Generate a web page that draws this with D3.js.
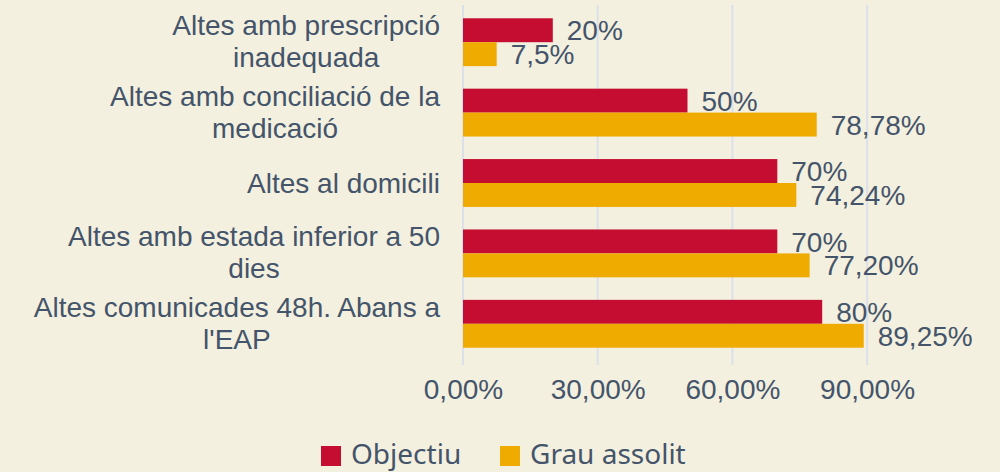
<!DOCTYPE html>
<html>
<head>
<meta charset="utf-8">
<script src="https://cdn.jsdelivr.net/npm/d3@7"></script>
<style>
  body { margin: 0; background: #f3f0df; }
  svg { display: block; }
  .cat, .val { fill: #44546a; font-family: "Liberation Sans", Arial, sans-serif; }
  .legend text { fill: #44546a; font-family: "Noto Sans", "Open Sans", sans-serif; }
</style>
</head>
<body>
<div class="bar_wrapper"></div>
<script>
// categories (line breaks as in the original)
const categories = [
  "Altes amb prescripció\ninadequada",
  "Altes amb conciliació de la\nmedicació",
  "Altes al domicili",
  "Altes amb estada inferior a 50\ndies",
  "Altes comunicades 48h. Abans a\nl'EAP"
]
const objectiu = [20, 50, 70, 70, 80]
const grauAssolit = [7.5, 78.78, 74.24, 77.20, 89.25]
const objectiuLabels = ["20%", "50%", "70%", "70%", "80%"]
const grauLabels = ["7,5%", "78,78%", "74,24%", "77,20%", "89,25%"]
const tickValues = [0, 30, 60, 90]
const tickLabels = ["0,00%", "30,00%", "60,00%", "90,00%"]
const seriesNames = ["Objectiu", "Grau assolit"]

function drawBars () {

  let dimensions = {
    width: 1000,
    height: 472,
    margin: { top: 7, right: 88, bottom: 113, left: 463 },
  }
  dimensions.boundedWidth = dimensions.width - dimensions.margin.left - dimensions.margin.right
  dimensions.boundedHeight = dimensions.height - dimensions.margin.top - dimensions.margin.bottom

  const colors = ["#c50d32", "#f0ab00"]

  const wrapper = d3.select(".bar_wrapper")
    .append("svg")
      .attr("width", dimensions.width)
      .attr("height", dimensions.height)

  wrapper.append("rect")
    .attr("width", dimensions.width)
    .attr("height", dimensions.height)
    .attr("fill", "#f3f0df")

  const bounds = wrapper.append("g")
    .attr("transform", `translate(${dimensions.margin.left},${dimensions.margin.top})`)

  const dataset = categories.map((c, i) => ({
    cat: c,
    values: [
      { key: 0, v: objectiu[i], label: objectiuLabels[i] },
      { key: 1, v: grauAssolit[i], label: grauLabels[i] },
    ]
  }))

  const xScale = d3.scaleLinear()
    .domain([0, 100])
    .range([0, dimensions.boundedWidth])

  const yScale = d3.scaleBand()
    .domain(categories)
    .range([0, dimensions.boundedHeight])
    .paddingInner(0.32)
    .paddingOuter(0.16)

  const subScale = d3.scaleBand()
    .domain([0, 1])
    .range([0, yScale.bandwidth()])

  // gridlines
  bounds.append("g")
    .selectAll("line")
    .data(tickValues)
    .join("line")
      .attr("x1", d => xScale(d))
      .attr("x2", d => xScale(d))
      .attr("y1", -2)
      .attr("y2", dimensions.boundedHeight + 6)
      .attr("stroke", "#dce0ea")
      .attr("stroke-width", 2)

  // x axis
  const xAxis = d3.axisBottom(xScale)
    .tickValues(tickValues)
    .tickFormat((d, i) => tickLabels[i])
    .tickSize(0)
    .tickPadding(20)

  bounds.append("g")
    .attr("transform", `translate(0,${dimensions.boundedHeight})`)
    .call(xAxis)
    .call(g => g.select(".domain").remove())
    .selectAll("text")
      .attr("font-size", 28)
      .attr("fill", "#44546a")
      .attr("font-family", "Liberation Sans, Arial, sans-serif")

  // bars
  const groups = bounds.selectAll(".group")
    .data(dataset)
    .join("g")
      .attr("class", "group")
      .attr("transform", d => `translate(0,${yScale(d.cat)})`)

  groups.selectAll("rect")
    .data(d => d.values)
    .join("rect")
      .attr("x", 0)
      .attr("y", d => subScale(d.key))
      .attr("width", d => xScale(d.v))
      .attr("height", subScale.bandwidth())
      .attr("fill", d => colors[d.key])

  groups.selectAll(".val")
    .data(d => d.values)
    .join("text")
      .attr("class", "val")
      .attr("x", d => xScale(d.v) + 14)
      .attr("y", d => subScale(d.key) + subScale.bandwidth() / 2)
      .attr("dy", "0.36em")
      .attr("font-size", 28)
      .text(d => d.label)

  // category labels, centred lines right-aligned as a block
  const catGroups = bounds.selectAll(".catg")
    .data(dataset)
    .join("g")
      .attr("class", "catg")
      .attr("transform", d => `translate(0,${yScale(d.cat) + yScale.bandwidth() / 2})`)

  catGroups.each(function (d) {
    const g = d3.select(this)
    const lines = d.cat.split("\n")
    const lineH = 32
    const texts = g.selectAll("text")
      .data(lines)
      .join("text")
        .attr("class", "cat")
        .attr("font-size", 28)
        .attr("text-anchor", "middle")
        .attr("y", (l, i) => (i - (lines.length - 1) / 2) * lineH - (lines.length > 1 ? 1 : 0))
        .attr("dy", "0.36em")
        .text(l => l)
    const widest = d3.max(texts.nodes(), n => n.getComputedTextLength())
    texts.attr("x", -23 - widest / 2)
  })

  // legend
  const legend = wrapper.append("g")
    .attr("class", "legend")
    .attr("transform", "translate(321,446)")

  const legendX = [0, 179]
  const items = legend.selectAll("g")
    .data(seriesNames)
    .join("g")
      .attr("transform", (d, i) => `translate(${legendX[i]},0)`)

  items.append("rect")
    .attr("width", 20)
    .attr("height", 20)
    .attr("fill", (d, i) => colors[i])

  items.append("text")
    .attr("x", 30)
    .attr("y", 8)
    .attr("dy", "0.36em")
    .attr("font-size", 28)
    .text(d => d)
}
drawBars()
</script>
</body>
</html>
